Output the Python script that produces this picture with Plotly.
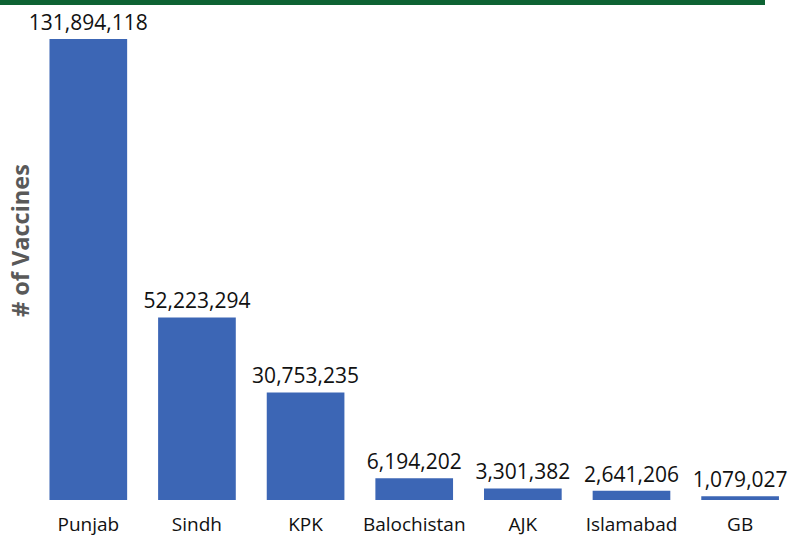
import plotly.graph_objects as go

categories = ["Punjab", "Sindh", "KPK", "Balochistan", "AJK", "Islamabad", "GB"]
vaccines = [131894118, 52223294, 30753235, 6194202, 3301382, 2641206, 1079027]
labels = [f"{v:,}" for v in vaccines]

W, H = 789, 537
ml, mr, mt, mb = 34, 0, 20, 37
pw, ph = W - ml - mr, H - mt - mb

fig = go.Figure()
fig.add_trace(go.Bar(
    x=categories, y=vaccines, text=labels, textposition="outside",
    constraintext="none",
    textfont=dict(family="Open Sans", size=21, color="#111111"),
    marker=dict(color="#3C66B5", line=dict(width=0)),
    cliponaxis=False,
))

fig.update_layout(
    width=W, height=H,
    margin=dict(l=ml, r=mr, t=mt, b=mb),
    paper_bgcolor="white", plot_bgcolor="white",
    bargap=0.285,
    showlegend=False,
    xaxis=dict(range=[-0.5, 6.45], showgrid=False, zeroline=False, showline=False,
               tickfont=dict(family="Open Sans", size=19, color="#111111"),
               ticks="", ticklabelstandoff=11, automargin=False),
    yaxis=dict(range=[0, 137.3e6], visible=False, automargin=False),
    font=dict(family="Open Sans"),
)

# top green rule
fig.add_shape(type="rect", xref="paper", yref="paper",
              x0=-ml / pw, x1=(765 - ml) / pw,
              y0=(H - mb - 5) / ph, y1=(H - mb + 1) / ph,
              fillcolor="#0E6333", line=dict(width=0), layer="above")

fig.add_annotation(text="<b># of Vaccines</b>", xref="paper", yref="paper",
                   x=(20 - ml) / pw, y=(500 - 241) / ph, textangle=-90,
                   showarrow=False, xanchor="center", yanchor="middle",
                   font=dict(family="Open Sans", size=23.5, color="#595959"))

fig.write_html("out.html", config={"displayModeBar": False},
               post_script="document.body.style.margin='0';document.body.style.overflow='hidden';")
